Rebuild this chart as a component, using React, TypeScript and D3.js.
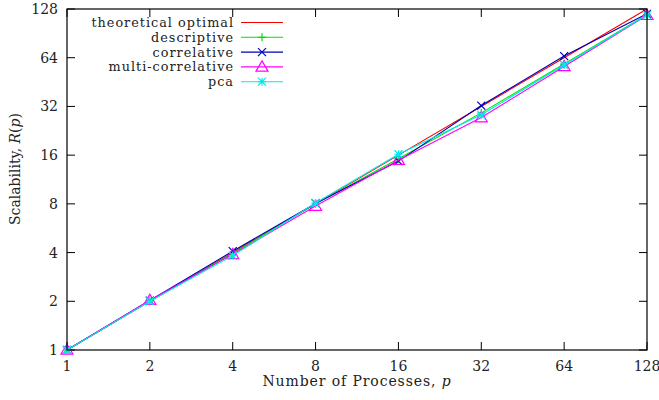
import React, { useRef, useEffect } from 'react';
import * as d3 from 'd3';

// processes (x) and measured scalability R(p) for each method
const processes = [1, 2, 4, 8, 16, 32, 64, 128];
const tickValues = [1, 2, 4, 8, 16, 32, 64, 128];
const optimal = [1, 2, 4, 8, 16, 32, 64, 128];
const descriptive = [1, 2.02, 3.95, 8.0, 15.2, 29.2, 58.5, 118];
const correlative = [1, 2.02, 4.08, 8.05, 14.7, 32.4, 65.5, 119.5];
const multiCorrelative = [1, 2.03, 3.9, 7.75, 14.9, 27.3, 56.5, 117];
const pca = [1, 2.0, 3.83, 8.1, 16.2, 28.4, 57.7, 117.5];

const seriesNames = ['theoretical optimal', 'descriptive', 'correlative', 'multi-correlative', 'pca'];
const seriesColors = ['#ff0000', '#00e000', '#0000b8', '#ff00ff', '#00e8e8'];
const seriesMarkers = ['none', 'plus', 'cross', 'triangle', 'star'];

const App = () => {
  const svgRef = useRef<SVGSVGElement>(null);

  useEffect(() => {
    const svg = d3.select(svgRef.current);
    svg.selectAll('*').remove();

    const width = 659;
    const height = 400;
    const margin = { top: 9, right: 12, bottom: 50, left: 67 };
    const font = '"DejaVu Serif", "Liberation Serif", serif';
    const fs = '14px';

    const x = d3.scaleLog().base(2).domain([1, 128]).range([margin.left, width - margin.right]);
    const y = d3.scaleLog().base(2).domain([1, 128]).range([height - margin.bottom, margin.top]);

    const x0 = margin.left, x1 = width - margin.right;
    const y0 = height - margin.bottom, y1 = margin.top;
    const tick = 8;

    // ticks on all four sides (mirrored)
    const g = svg.append('g');
    tickValues.forEach((v) => {
      g.append('line').attr('x1', x(v)).attr('x2', x(v)).attr('y1', y0).attr('y2', y0 - tick).attr('stroke', '#000');
      g.append('line').attr('x1', x(v)).attr('x2', x(v)).attr('y1', y1).attr('y2', y1 + tick).attr('stroke', '#000');
      g.append('line').attr('y1', y(v)).attr('y2', y(v)).attr('x1', x0).attr('x2', x0 + tick).attr('stroke', '#000');
      g.append('line').attr('y1', y(v)).attr('y2', y(v)).attr('x1', x1).attr('x2', x1 - tick).attr('stroke', '#000');
      g.append('text').attr('x', x(v)).attr('y', y0 + 21).attr('text-anchor', 'middle')
        .style('font-family', font).style('font-size', fs).attr('fill', '#222').text(v);
      g.append('text').attr('x', x0 - 9).attr('y', y(v) + 5).attr('text-anchor', 'end')
        .style('font-family', font).style('font-size', fs).attr('fill', '#222').text(v);
    });

    const seriesData = [optimal, descriptive, correlative, multiCorrelative, pca];

    const drawMarker = (sel, type: string, cx: number, cy: number, color: string) => {
      const s = 4;
      const p = d3.path();
      if (type === 'plus' || type === 'star') {
        p.moveTo(cx - s, cy); p.lineTo(cx + s, cy);
        p.moveTo(cx, cy - s); p.lineTo(cx, cy + s);
      }
      if (type === 'cross' || type === 'star') {
        p.moveTo(cx - s, cy - s); p.lineTo(cx + s, cy + s);
        p.moveTo(cx - s, cy + s); p.lineTo(cx + s, cy - s);
      }
      if (type === 'triangle') {
        const t = 6;
        p.moveTo(cx, cy - t); p.lineTo(cx + t, cy + t * 0.7); p.lineTo(cx - t, cy + t * 0.7); p.closePath();
      }
      if (type !== 'none') {
        sel.append('path').attr('d', p.toString()).attr('fill', 'none').attr('stroke', color).attr('stroke-width', 1.2);
      }
    };

    const line = d3.line<number>()
      .x((_, i) => x(processes[i]))
      .y((d) => y(d));

    seriesData.forEach((vals, k) => {
      const sg = svg.append('g');
      sg.append('path').datum(vals).attr('d', line).attr('fill', 'none')
        .attr('stroke', seriesColors[k]).attr('stroke-width', 1.1);
      vals.forEach((v, i) => drawMarker(sg, seriesMarkers[k], x(processes[i]), y(v), seriesColors[k]));
    });

    // legend
    const lg = svg.append('g');
    seriesNames.forEach((name, k) => {
      const ly = 22.5 + k * 14.8;
      lg.append('text').attr('x', 234).attr('y', ly + 4.5).attr('text-anchor', 'end')
        .style('font-family', font).style('font-size', '12.8px').style('letter-spacing', '1px')
        .attr('fill', '#222').text(name);
      lg.append('line').attr('x1', 241).attr('x2', 283).attr('y1', ly).attr('y2', ly)
        .attr('stroke', seriesColors[k]).attr('stroke-width', 1.1);
      drawMarker(lg, seriesMarkers[k], 262, ly, seriesColors[k]);
    });

    // frame
    svg.append('rect').attr('x', x0).attr('y', y1).attr('width', x1 - x0).attr('height', y0 - y1)
      .attr('fill', 'none').attr('stroke', '#000').attr('stroke-width', 1.2);

    // axis labels
    const xl = svg.append('text').attr('x', (x0 + x1) / 2).attr('y', 386).attr('text-anchor', 'middle')
      .style('font-family', font).style('font-size', fs).style('letter-spacing', '0.9px').attr('fill', '#222');
    xl.append('tspan').text('Number of Processes, ');
    xl.append('tspan').style('font-style', 'italic').text('p');

    const yl = svg.append('text').attr('transform', `translate(20, 169) rotate(-90)`)
      .attr('text-anchor', 'middle')
      .style('font-family', font).style('font-size', fs).attr('fill', '#222');
    yl.append('tspan').text('Scalability, ');
    yl.append('tspan').style('font-style', 'italic').text('R');
    yl.append('tspan').text('(');
    yl.append('tspan').style('font-style', 'italic').text('p');
    yl.append('tspan').text(')');
  }, []);

  return (
    <svg ref={svgRef} width={659} height={400}
      style={{ position: 'absolute', left: 0, top: 0, background: '#fff' }} />
  );
};

export default App;
